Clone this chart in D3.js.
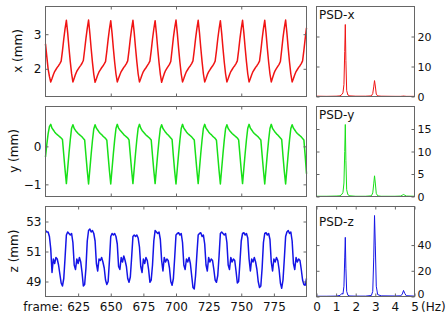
<!DOCTYPE html>
<html>
<head>
<meta charset="utf-8">
<script src="https://cdn.jsdelivr.net/npm/d3@7"></script>
<style>
body { margin: 0; background: #fff; }
text { font-family: "DejaVu Sans", sans-serif; fill: #111; }
</style>
</head>
<body>
<script>
// ---- data ----
let firstFrame = 600;

let xMM = [2.72, 2.35, 2.00, 1.78, 1.62,
    1.72, 1.83, 1.92, 1.98, 2.04, 2.09, 2.15, 2.22, 2.52, 2.86, 3.16, 3.40, 3.04, 2.60, 2.20, 1.86, 1.62,
    1.73, 1.84, 1.93, 1.99, 2.05, 2.10, 2.16, 2.24, 2.55, 2.88, 3.17, 3.41, 3.02, 2.58, 2.18, 1.84, 1.61,
    1.71, 1.82, 1.91, 1.97, 2.03, 2.08, 2.14, 2.21, 2.51, 2.85, 3.15, 3.39, 3.03, 2.59, 2.19, 1.85, 1.62,
    1.73, 1.83, 1.92, 1.98, 2.04, 2.09, 2.15, 2.23, 2.53, 2.87, 3.16, 3.40, 3.04, 2.60, 2.20, 1.85, 1.62,
    1.72, 1.83, 1.92, 1.98, 2.03, 2.09, 2.15, 2.22, 2.52, 2.86, 3.15, 3.39, 3.02, 2.58, 2.18, 1.84, 1.61,
    1.74, 1.86, 1.95, 2.01, 2.07, 2.13, 2.21, 2.55, 2.90, 3.18, 3.41, 3.03, 2.59, 2.19, 1.85, 1.62,
    1.72, 1.83, 1.92, 1.98, 2.04, 2.09, 2.15, 2.23, 2.53, 2.87, 3.16, 3.40, 3.04, 2.60, 2.20, 1.85, 1.62,
    1.72, 1.83, 1.91, 1.97, 2.03, 2.08, 2.14, 2.22, 2.52, 2.86, 3.15, 3.39, 3.03, 2.59, 2.19, 1.85, 1.62,
    1.72, 1.83, 1.92, 1.98, 2.04, 2.09, 2.15, 2.23, 2.53, 2.87, 3.16, 3.40, 3.04, 2.60, 2.20, 1.85, 1.62,
    1.72, 1.83, 1.92, 1.98, 2.04, 2.09, 2.15, 2.22, 2.52, 2.86, 3.16, 3.40, 3.03, 2.59, 2.19, 1.85, 1.62,
    1.74, 1.86, 1.95, 2.01, 2.07, 2.13, 2.21, 2.55, 2.90, 3.18, 3.41, 3.03, 2.59, 2.19, 1.85, 1.62,
    1.72, 1.83, 1.92, 1.98, 2.04, 2.09, 2.15, 2.23, 2.53, 2.87, 3.18];

let yMM = [-0.28, 0.05, 0.33, 0.52, 0.58,
    0.48, 0.43, 0.38, 0.34, 0.31, 0.28, 0.25, 0.22, 0.18, -0.22, -0.62, -0.98, -0.58, -0.18, 0.18, 0.48, 0.57,
    0.47, 0.42, 0.38, 0.34, 0.31, 0.28, 0.25, 0.21, 0.17, -0.24, -0.64, -0.99, -0.60, -0.20, 0.16, 0.46, 0.57,
    0.48, 0.43, 0.38, 0.34, 0.31, 0.27, 0.24, 0.21, 0.16, -0.25, -0.65, -0.99, -0.59, -0.19, 0.17, 0.47, 0.58,
    0.48, 0.43, 0.39, 0.35, 0.31, 0.28, 0.25, 0.22, 0.17, -0.23, -0.63, -0.98, -0.58, -0.18, 0.18, 0.48, 0.58,
    0.48, 0.42, 0.38, 0.34, 0.30, 0.27, 0.24, 0.21, 0.17, -0.24, -0.64, -0.98, -0.59, -0.19, 0.17, 0.47, 0.57,
    0.47, 0.42, 0.37, 0.33, 0.30, 0.26, 0.22, 0.18, -0.26, -0.66, -0.99, -0.59, -0.19, 0.17, 0.47, 0.58,
    0.48, 0.43, 0.38, 0.34, 0.31, 0.28, 0.25, 0.21, 0.17, -0.23, -0.63, -0.98, -0.58, -0.18, 0.18, 0.48, 0.58,
    0.48, 0.43, 0.38, 0.34, 0.31, 0.27, 0.24, 0.21, 0.16, -0.24, -0.64, -0.99, -0.59, -0.19, 0.17, 0.47, 0.57,
    0.47, 0.42, 0.38, 0.34, 0.31, 0.28, 0.25, 0.22, 0.17, -0.23, -0.63, -0.98, -0.58, -0.18, 0.18, 0.48, 0.58,
    0.48, 0.43, 0.38, 0.34, 0.31, 0.28, 0.25, 0.21, 0.17, -0.23, -0.63, -0.99, -0.59, -0.19, 0.17, 0.47, 0.58,
    0.47, 0.42, 0.37, 0.33, 0.30, 0.26, 0.22, 0.18, -0.26, -0.66, -0.99, -0.59, -0.19, 0.17, 0.47, 0.57,
    0.48, 0.43, 0.38, 0.34, 0.31, 0.28, 0.25, 0.21, 0.17, -0.25, -0.72];

let zMM = [52.4, 52.3, 52.3, 52.0, 51.2, 49.6, 50.5, 50.2, 50.6, 50.5,
    50.1, 49.5, 48.9, 48.7, 49.2, 50.6, 52.1, 52.3, 52.2, 52.1,
    52.2, 51.6, 50.1, 49.8, 50.5, 50.2, 50.6, 50.3, 49.6, 48.7,
    48.8, 49.9, 51.7, 52.4, 52.5, 52.3, 52.4, 52.2, 51.7, 50.2,
    49.7, 50.5, 50.4, 50.6, 50.3, 49.9, 49.1, 48.8, 49.0, 50.4,
    52.0, 52.2, 52.1, 52.2, 52.0, 51.5, 50.0, 49.8, 50.6, 50.3,
    50.7, 50.4, 50.0, 49.2, 48.95, 49.3, 50.6, 52.0, 52.1, 52.0,
    52.1, 51.9, 51.3, 50.0, 49.6, 50.5, 50.2, 50.6, 50.4, 49.8,
    48.95, 49.1, 50.1, 51.7, 52.4, 52.3, 52.2, 52.3, 51.8, 50.4,
    49.7, 50.6, 50.3, 50.5, 50.4, 49.9, 49.0, 48.75, 49.2, 50.6,
    52.1, 52.2, 52.25, 52.1, 52.2, 51.6, 50.1, 49.8, 50.5, 50.3,
    50.6, 50.2, 49.4, 48.6, 48.5, 49.4, 50.8, 52.1, 52.2, 52.25,
    52.0, 52.1, 51.5, 50.1, 49.7, 50.6, 50.3, 50.5, 50.4, 49.8,
    49.1, 48.95, 49.4, 50.7, 52.2, 52.3, 52.2, 52.1, 52.2, 51.6,
    50.1, 49.8, 50.6, 50.3, 50.5, 50.4, 49.7, 48.9, 49.0, 50.3,
    51.7, 52.2, 52.25, 52.1, 52.2, 51.9, 50.5, 49.7, 50.5, 50.3,
    50.6, 50.3, 49.8, 49.0, 48.6, 48.7, 49.9, 51.6, 52.2, 52.25,
    52.1, 52.2, 51.8, 50.3, 49.7, 50.5, 50.3, 50.6, 50.4, 49.8,
    48.9, 48.55, 49.1, 50.5, 52.0, 52.3, 52.4, 52.2, 52.3, 51.7,
    50.2, 49.8, 50.6, 50.3, 50.5, 50.4, 49.8, 49.1, 48.8, 48.75,
    49.2];

let psdHz = [0, 0.5, 1.0, 1.2, 1.3, 1.35, 1.4, 1.44, 1.47, 1.5, 1.54, 1.6, 1.7, 2.0, 2.5,
    2.8, 2.87, 2.92, 2.96, 3.0, 3.05, 3.12, 3.3, 4.0, 4.3, 4.38, 4.44, 4.5, 4.58, 5.0];
let psdX = [0.1, 0.05, 0.1, 0.2, 0.7, 1.2, 4, 15, 24, 12, 2, 0.5, 0.2, 0.1, 0.1,
    0.2, 1.0, 3.2, 5.3, 3.5, 0.8, 0.2, 0.1, 0.05, 0.05, 0.1, 0.15, 0.1, 0.05, 0.05];
let psdY = [0.05, 0.05, 0.1, 0.15, 0.5, 0.9, 3, 10, 16, 8, 1.5, 0.4, 0.15, 0.05, 0.05,
    0.15, 0.8, 2.8, 4.6, 3.0, 0.7, 0.15, 0.05, 0.05, 0.1, 0.3, 0.45, 0.3, 0.1, 0.05];
let psdZ = [0.2, 0.2, 0.3, 0.8, 2.5, 1.8, 8, 30, 46, 22, 4, 1, 0.4, 0.3, 0.3,
    0.8, 4, 30, 63, 40, 8, 1.5, 0.5, 0.4, 0.5, 2, 4.7, 2.5, 0.6, 0.3];

let frameTicksCoarse = [650, 700, 750];
let frameTicksFine = [625, 650, 675, 700, 725, 750, 775];
let hzTicks = [0, 1, 2, 3, 4, 5];

// ---- layout ----
let width = 447,
    height = 320;

let svg = d3.select("body").append("svg")
    .attr("width", width)
    .attr("height", height);

let fx = d3.scaleLinear().domain([600, 800]).range([45.5, 306.5]);
let hz = d3.scaleLinear().domain([0, 5]).range([316.5, 414.5]);
let fmt = d3.format("d");

let rows = [
    {vals: xMM, psd: psdX, color: "#f01414", top: 6, dom: [1.2, 3.8], ticks: [2, 3], label: "x (mm)", labelX: 22,
        psdDom: [0, 30], psdTicks: [0, 10, 20], name: "PSD-x", nameY: 18.5, fticks: frameTicksCoarse},
    {vals: yMM, psd: psdY, color: "#18e018", top: 106, dom: [-1.32, 1.05], ticks: [-1, 0], label: "y (mm)", labelX: 18,
        psdDom: [0, 20], psdTicks: [0, 5, 10, 15], name: "PSD-y", nameY: 119, fticks: frameTicksCoarse},
    {vals: zMM, psd: psdZ, color: "#1414e6", top: 206, dom: [48, 54], ticks: [49, 51, 53], label: "z (mm)", labelX: 18,
        psdDom: [0, 70], psdTicks: [0, 20, 40], name: "PSD-z", nameY: 226, fticks: frameTicksFine}
];

let ph = 90;

rows.forEach((r, k) => {
    let top = r.top + 0.5,
        bot = r.top + ph + 0.5;
    let y = d3.scaleLinear().domain(r.dom).range([bot, top]);
    let py = d3.scaleLinear().domain(r.psdDom).range([bot, top]);
    let last = k === rows.length - 1;

    // time series
    svg.append("path")
        .datum(r.vals)
        .attr("fill", "none")
        .attr("stroke", r.color)
        .attr("stroke-width", 1.5)
        .attr("stroke-linejoin", "round")
        .attr("d", d3.line().x((d, i) => fx(firstFrame + i)).y(d => y(d)));

    // psd
    svg.append("path")
        .datum(r.psd)
        .attr("fill", "none")
        .attr("stroke", r.color)
        .attr("stroke-width", 1)
        .attr("d", d3.line().x((d, i) => hz(psdHz[i])).y(d => py(d)));

    // left panel axes
    let bottomAx = d3.axisBottom(fx).tickValues(r.fticks).tickSize(-3).tickPadding(6).tickFormat(fmt);
    if (!last) bottomAx.tickFormat("");
    svg.append("g").attr("class", "ax").attr("transform", `translate(0,${bot})`).call(bottomAx);
    svg.append("g").attr("class", "ax").attr("transform", `translate(0,${top})`)
        .call(d3.axisTop(fx).tickValues(r.fticks).tickSize(-3).tickFormat(""));
    svg.append("g").attr("class", "ax").attr("transform", `translate(45.5,0)`)
        .call(d3.axisLeft(y).tickValues(r.ticks).tickSize(-3).tickPadding(4).tickFormat(fmt));
    svg.append("g").attr("class", "ax").attr("transform", `translate(306.5,0)`)
        .call(d3.axisRight(y).tickValues(r.ticks).tickSize(-3).tickFormat(""));

    // right panel axes
    let rAx = svg.append("g").attr("class", "ax psd").attr("transform", `translate(414.5,0)`)
        .call(d3.axisRight(py).tickValues(r.psdTicks).tickSize(-3).tickPadding(3).tickFormat(fmt));
    if (last) rAx.selectAll(".tick text").filter(d => d === 0).attr("y", -3);
    svg.append("g").attr("class", "ax").attr("transform", `translate(316.5,0)`)
        .call(d3.axisLeft(py).tickValues(r.psdTicks).tickSize(-3).tickFormat(""));
    if (last) {
        svg.append("g").attr("class", "ax").attr("transform", `translate(0,${bot})`)
            .call(d3.axisBottom(hz).tickValues(hzTicks).tickSize(-3).tickPadding(6).tickFormat(fmt));
        svg.append("g").attr("class", "ax").attr("transform", `translate(0,${top})`)
            .call(d3.axisTop(hz).tickValues(hzTicks).tickSize(-3).tickFormat(""));
    }

    // boxes
    svg.append("rect")
        .attr("x", 45.5).attr("y", top)
        .attr("width", 261).attr("height", ph)
        .attr("fill", "none").attr("stroke", "#666");
    svg.append("rect")
        .attr("x", 316.5).attr("y", top)
        .attr("width", 98).attr("height", ph)
        .attr("fill", "none").attr("stroke", "#666");

    // labels
    svg.append("text")
        .attr("transform", `translate(${r.labelX},${r.top + ph / 2}) rotate(-90)`)
        .attr("text-anchor", "middle")
        .attr("font-size", 12)
        .text(r.label);
    svg.append("text")
        .attr("x", 319).attr("y", r.nameY)
        .attr("font-size", 12)
        .text(r.name);
});

svg.selectAll(".ax .domain").remove();
svg.selectAll(".ax line").attr("stroke", "#666");
svg.selectAll(".ax text")
    .attr("font-family", "DejaVu Sans, sans-serif")
    .attr("font-size", 12)
    .attr("fill", "#111");
svg.selectAll(".psd text").attr("font-size", 11);

svg.append("text")
    .attr("x", 63).attr("y", 310.5)
    .attr("text-anchor", "end")
    .attr("font-size", 12)
    .text("frame:");
svg.append("text")
    .attr("x", 421).attr("y", 311)
    .attr("font-size", 12)
    .text("(Hz)");
</script>
</body>
</html>
